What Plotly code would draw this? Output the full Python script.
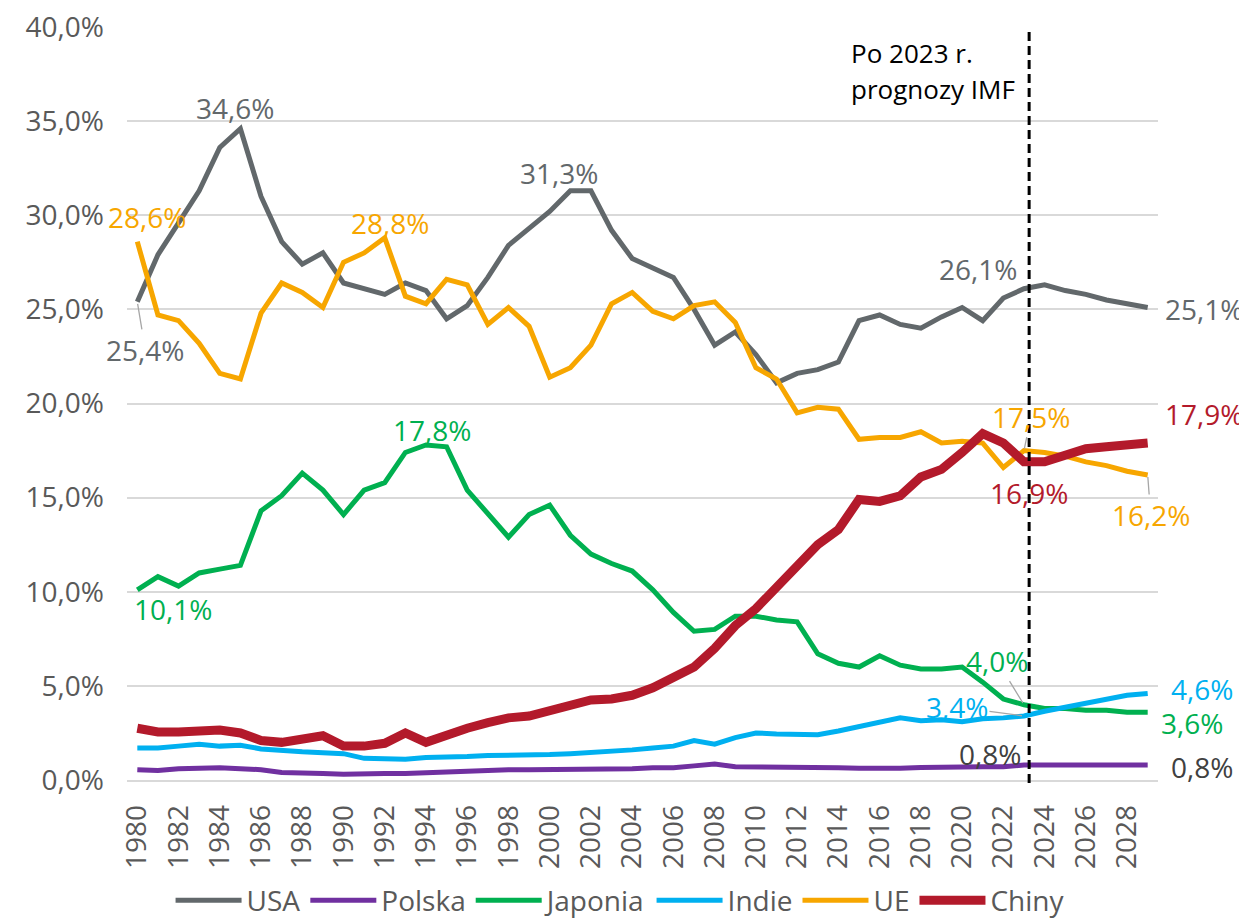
import plotly.graph_objects as go

years = list(range(1980, 2030))

usa = [25.4, 27.9, 29.6, 31.3, 33.6, 34.6, 31.0, 28.6, 27.4, 28.0,
       26.4, 26.1, 25.8, 26.4, 26.0, 24.5, 25.2, 26.7, 28.4, 29.3,
       30.2, 31.3, 31.3, 29.2, 27.7, 27.2, 26.7, 25.0, 23.1, 23.8,
       22.6, 21.1, 21.6, 21.8, 22.2, 24.4, 24.7, 24.2, 24.0, 24.6,
       25.1, 24.4, 25.6, 26.1, 26.3, 26.0, 25.8, 25.5, 25.3, 25.1]

polska = [0.55, 0.5, 0.6, 0.65, 0.65, 0.6, 0.55, 0.4, 0.4, 0.35,
          0.3, 0.35, 0.35, 0.35, 0.4, 0.45, 0.5, 0.5, 0.55, 0.55,
          0.55, 0.55, 0.6, 0.6, 0.6, 0.65, 0.65, 0.75, 0.85, 0.7,
          0.7, 0.7, 0.7, 0.7, 0.65, 0.62, 0.6, 0.62, 0.67, 0.7,
          0.7, 0.7, 0.7, 0.8, 0.8, 0.8, 0.8, 0.8, 0.8, 0.8]

japonia = [10.1, 10.8, 10.3, 11.0, 11.2, 11.4, 14.3, 15.1, 16.3, 15.4,
           14.1, 15.4, 15.8, 17.4, 17.8, 17.7, 15.4, 14.1, 12.9, 14.1,
           14.6, 13.0, 12.0, 11.5, 11.1, 10.1, 8.9, 7.9, 8.0, 8.7,
           8.7, 8.5, 8.4, 6.7, 6.2, 6.0, 6.6, 6.1, 5.9, 5.9,
           6.0, 5.2, 4.3, 4.0, 3.8, 3.8, 3.7, 3.7, 3.6, 3.6]

indie = [1.7, 1.7, 1.8, 1.9, 1.8, 1.85, 1.65, 1.55, 1.5, 1.45,
         1.4, 1.15, 1.15, 1.1, 1.2, 1.2, 1.25, 1.3, 1.3, 1.35,
         1.35, 1.4, 1.45, 1.55, 1.6, 1.7, 1.8, 2.1, 1.9, 2.25,
         2.5, 2.45, 2.45, 2.4, 2.6, 2.85, 3.05, 3.3, 3.15, 3.2,
         3.1, 3.25, 3.3, 3.4, 3.65, 3.85, 4.05, 4.3, 4.5, 4.6]

ue = [28.6, 24.7, 24.4, 23.2, 21.6, 21.3, 24.8, 26.4, 25.9, 25.1,
      27.5, 28.0, 28.8, 25.7, 25.3, 26.6, 26.3, 24.2, 25.1, 24.1,
      21.4, 21.9, 23.1, 25.3, 25.9, 24.9, 24.5, 25.2, 25.4, 24.3,
      21.9, 21.3, 19.5, 19.8, 19.7, 18.1, 18.2, 18.2, 18.5, 17.9,
      18.0, 17.9, 16.6, 17.5, 17.4, 17.2, 16.9, 16.7, 16.4, 16.2]

chiny = [2.75, 2.55, 2.55, 2.65, 2.65, 2.5, 2.1, 2.0, 2.2, 2.35,
         1.8, 1.8, 1.95, 2.5, 2.0, 2.4, 2.75, 3.05, 3.3, 3.4,
         3.65, 4.0, 4.25, 4.3, 4.5, 4.9, 5.4, 6.0, 7.0, 8.2,
         9.1, 10.2, 11.4, 12.5, 13.3, 14.9, 14.8, 15.1, 16.1, 16.5,
         17.4, 18.4, 17.9, 16.9, 16.9, 17.3, 17.6, 17.7, 17.8, 17.9]

series_names = ["USA", "Polska", "Japonia", "Indie", "UE", "Chiny"]
series_vals = [usa, polska, japonia, indie, ue, chiny]
colors = {"USA": "#62686B", "Polska": "#7030A0", "Japonia": "#00B050",
          "Indie": "#00B0F0", "UE": "#F7A600", "Chiny": "#B31A2B"}
label_colors = dict(colors)
label_colors["Polska"] = "#404040"
widths = {"USA": 5, "Polska": 5, "Japonia": 5, "Indie": 5, "UE": 5, "Chiny": 9}

tick_years = list(range(1980, 2029, 2))
tick_labels = [str(y) for y in tick_years]
forecast_year = 2023

FONT = "Open Sans"

fig = go.Figure()
for name, vals in zip(series_names, series_vals):
    fig.add_trace(go.Scatter(
        x=years, y=vals, mode="lines", name=name,
        line=dict(color=colors[name], width=widths[name]),
        hoverinfo="skip",
    ))

def fmt(v):
    return f"{v:.1f}".replace(".", ",") + "%"

data = dict(zip(series_names, series_vals))

# (series, year, dx, dy(up positive), leader)
labels = [
    ("USA", 1980, 8, -48, True),
    ("USA", 1985, -5, 21, False),
    ("USA", 2001, -11, 18, False),
    ("USA", 2023, -46, 20, False),
    ("USA", 2029, 56, -2, False),
    ("UE", 1980, 10, 25, False),
    ("UE", 1992, 5, 15, False),
    ("UE", 2023, 7, 34, True),
    ("UE", 2029, 3, -40, True),
    ("Chiny", 2023, 5, -31, False),
    ("Chiny", 2029, 56, 29, False),
    ("Japonia", 1980, 36, -19, False),
    ("Japonia", 1994, 6, 15, False),
    ("Japonia", 2023, -27, 44, True),
    ("Japonia", 2029, 44, -11, False),
    ("Indie", 2023, -67, 9, True),
    ("Indie", 2029, 54, 4, False),
    ("Polska", 2023, -34, 11, False),
    ("Polska", 2029, 54, -2, False),
]

annotations = []
for name, yr, dx, dy, leader in labels:
    v = data[name][years.index(yr)]
    common = dict(x=yr, y=v, xref="x", yref="y", text=fmt(v),
                  font=dict(family=FONT, size=28, color=label_colors[name]))
    if leader:
        annotations.append(dict(**common, showarrow=True, arrowhead=0,
                                arrowwidth=1.3, arrowcolor="#A6A6A6",
                                ax=dx, ay=-dy, standoff=2))
    else:
        annotations.append(dict(**common, showarrow=False, xshift=dx, yshift=dy,
                                xanchor="center", yanchor="middle"))

annotations.append(dict(x=forecast_year + 0.25, y=1.0, xref="x", yref="paper",
                        text="Po 2023 r.", showarrow=False, xanchor="left",
                        yanchor="middle", xshift=-180, yshift=-26, align="left",
                        font=dict(family=FONT, size=26, color="#000000")))
annotations.append(dict(x=forecast_year + 0.25, y=1.0, xref="x", yref="paper",
                        text="prognozy IMF", showarrow=False, xanchor="left",
                        yanchor="middle", xshift=-180, yshift=-62, align="left",
                        font=dict(family=FONT, size=26, color="#000000")))

fig.update_layout(
    width=1239, height=912,
    margin=dict(l=119, r=89, t=19, b=140, autoexpand=False),
    paper_bgcolor="white", plot_bgcolor="white",
    separators=", ",
    font=dict(family=FONT, color="#595959"),
    showlegend=True,
    legend=dict(orientation="h", x=0.494, xanchor="center", xref="container",
                y=-0.16, yref="paper", yanchor="middle",
                font=dict(family=FONT, size=28, color="#595959"),
                itemwidth=66, tracegroupgap=0),
    annotations=annotations,
    shapes=[dict(type="line", xref="x", yref="paper",
                 x0=forecast_year + 0.25, x1=forecast_year + 0.25,
                 y0=-0.004, y1=0.996,
                 line=dict(color="#000000", width=3, dash="9px,5px"))],
)
fig.update_xaxes(range=[1979.5, 2029.5], tickmode="array", tickvals=tick_years,
                 ticktext=tick_labels, tickangle=-90, showgrid=False,
                 showline=True, linecolor="#D9D9D9", linewidth=1.5, ticks="",
                 tickfont=dict(family=FONT, size=28, color="#595959"),
                 ticklabelstandoff=12, zeroline=False)
fig.update_yaxes(range=[0, 40], dtick=5, tick0=0, tickformat=".1f", ticksuffix="%",
                 showgrid=True, gridcolor="#D9D9D9", gridwidth=1.5, zeroline=False,
                 showline=False, ticks="", ticklabeloverflow="allow",
                 tickfont=dict(family=FONT, size=28, color="#595959"),
                 ticklabelstandoff=22)

fig.write_html("out.html")
